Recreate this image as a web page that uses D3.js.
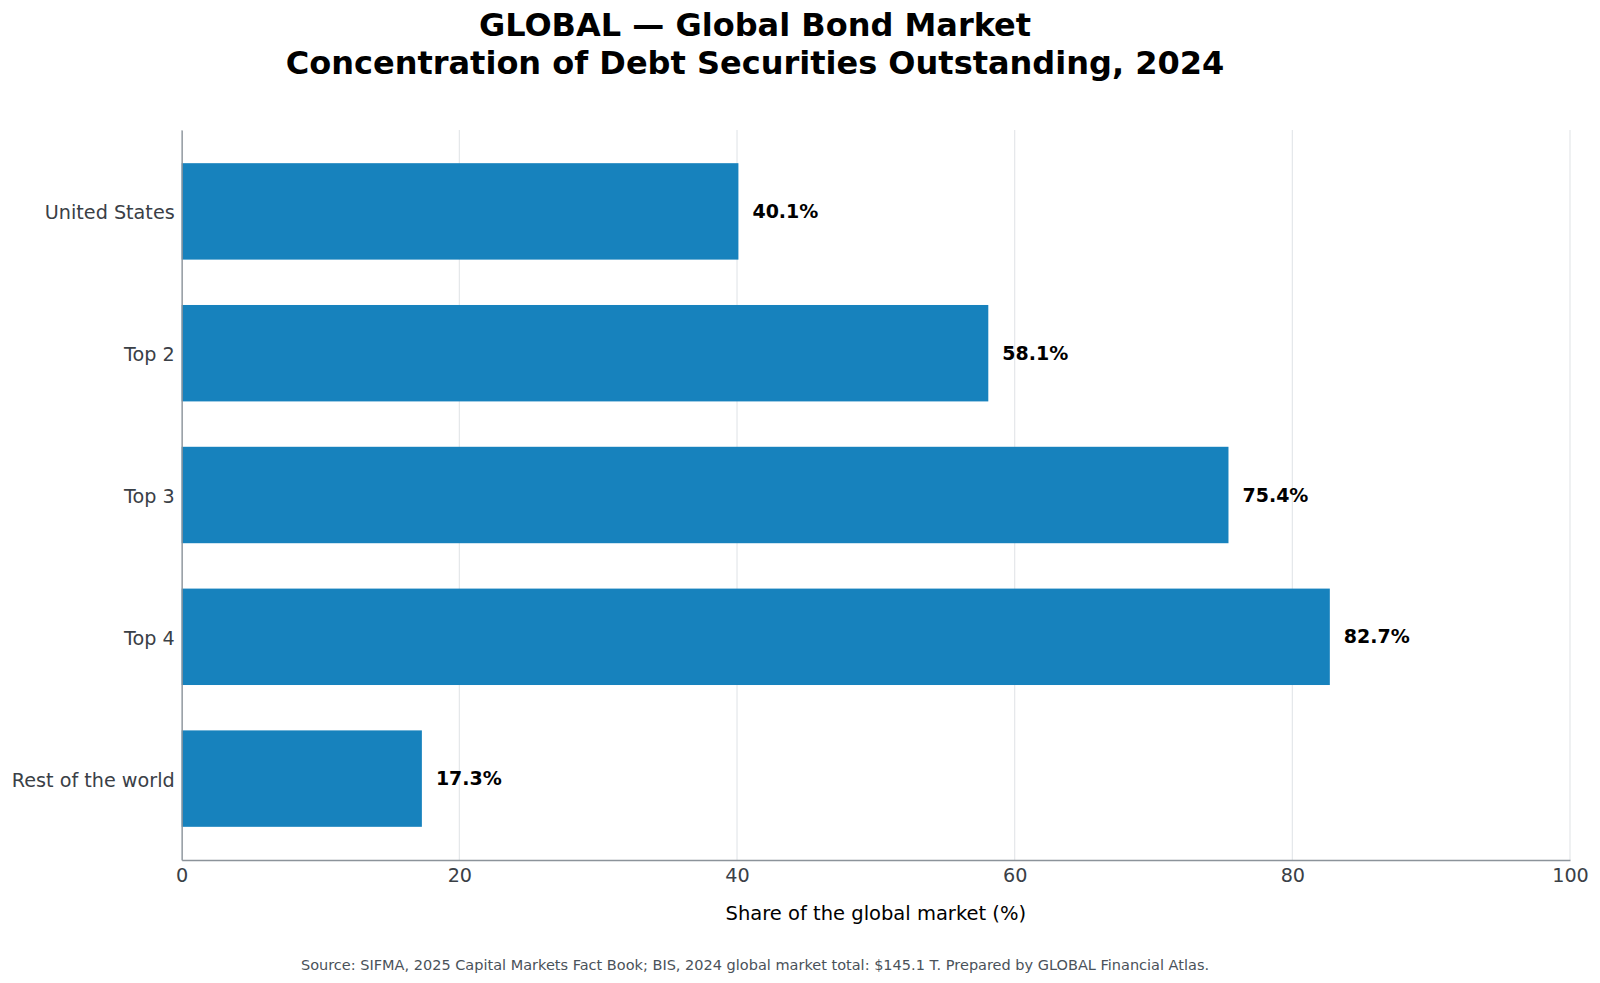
<!DOCTYPE html>
<html>
<head>
<meta charset="utf-8">
<script src="https://cdn.jsdelivr.net/npm/d3@7"></script>
<style>
  html, body { margin: 0; padding: 0; background: #fff; }
  text { font-family: "DejaVu Sans", sans-serif; }
</style>
</head>
<body>
<div id="chart"></div>
<script>
var categories = ['United States', 'Top 2', 'Top 3', 'Top 4', 'Rest of the world'];
var shares = [40.1, 58.1, 75.4, 82.7, 17.3];
var xTicks = [0, 20, 40, 60, 80, 100];

var titleLines = ['GLOBAL \u2014 Global Bond Market', 'Concentration of Debt Securities Outstanding, 2024'];
var xLabel = 'Share of the global market (%)';
var source = 'Source: SIFMA, 2025 Capital Markets Fact Book; BIS, 2024 global market total: $145.1 T. Prepared by GLOBAL Financial Atlas.';

function drawChart() {
  var data = categories.map(function(c, i) { return { name: c, value: shares[i] }; });

  var W = 1600, H = 983;
  var plotLeft = 181.7, plotRight = 1570, plotTop = 130, plotBottom = 860;

  var svg = d3.select('#chart')
    .append('svg')
    .attr('width', W)
    .attr('height', H);

  var x = d3.scaleLinear().domain([0, 100]).range([plotLeft, plotRight]);
  var y = d3.scaleBand()
    .domain(categories)
    .range([plotTop, plotBottom])
    .paddingInner(0.32)
    .paddingOuter(0.234);

  // grid
  svg.append('g')
    .selectAll('line')
    .data(xTicks)
    .enter().append('line')
    .attr('x1', function(d) { return x(d); })
    .attr('x2', function(d) { return x(d); })
    .attr('y1', plotTop)
    .attr('y2', plotBottom)
    .attr('stroke', '#e4e7ea')
    .attr('stroke-width', 1.2);

  // bars
  svg.selectAll('.bar')
    .data(data)
    .enter().append('rect')
    .attr('class', 'bar')
    .attr('fill', '#1782bd')
    .attr('x', x(0))
    .attr('y', function(d) { return y(d.name); })
    .attr('width', function(d) { return x(d.value) - x(0); })
    .attr('height', y.bandwidth());

  // value labels
  svg.selectAll('.val')
    .data(data)
    .enter().append('text')
    .attr('class', 'val')
    .attr('x', function(d) { return x(d.value) + 14; })
    .attr('y', function(d) { return y(d.name) + y.bandwidth() / 2; })
    .attr('dy', '0.35em')
    .attr('font-size', 19)
    .attr('font-weight', 'bold')
    .attr('fill', '#000')
    .text(function(d) { return d.value.toFixed(1) + '%'; });

  // axes
  var xAxis = svg.append('g')
    .attr('transform', 'translate(0,' + plotBottom + ')')
    .call(d3.axisBottom(x).tickValues(xTicks).tickSize(0).tickPadding(8));
  var yAxis = svg.append('g')
    .attr('transform', 'translate(' + plotLeft + ',0)')
    .call(d3.axisLeft(y).tickSize(0).tickPadding(7));

  [xAxis, yAxis].forEach(function(a) {
    a.select('.domain').attr('stroke', '#8c939a').attr('stroke-width', 1.3);
    a.selectAll('text')
      .attr('font-family', '"DejaVu Sans", sans-serif')
      .attr('font-size', 19.2)
      .attr('fill', '#3a4046');
  });
  yAxis.selectAll('text').attr('dy', '0.42em');

  svg.append('text')
    .attr('x', (plotLeft + plotRight) / 2)
    .attr('y', 920)
    .attr('text-anchor', 'middle')
    .attr('font-size', 19.5)
    .attr('fill', '#000')
    .text(xLabel);

  // title
  svg.selectAll('.title')
    .data(titleLines)
    .enter().append('text')
    .attr('class', 'title')
    .attr('x', 755)
    .attr('y', function(d, i) { return 36 + i * 38; })
    .attr('text-anchor', 'middle')
    .attr('font-size', 32)
    .attr('font-weight', 'bold')
    .attr('fill', '#000')
    .text(function(d) { return d; });

  svg.append('text')
    .attr('x', 755)
    .attr('y', 970)
    .attr('text-anchor', 'middle')
    .attr('font-size', 14.5)
    .attr('fill', '#4a525a')
    .text(source);
}

drawChart();
</script>
</body>
</html>
